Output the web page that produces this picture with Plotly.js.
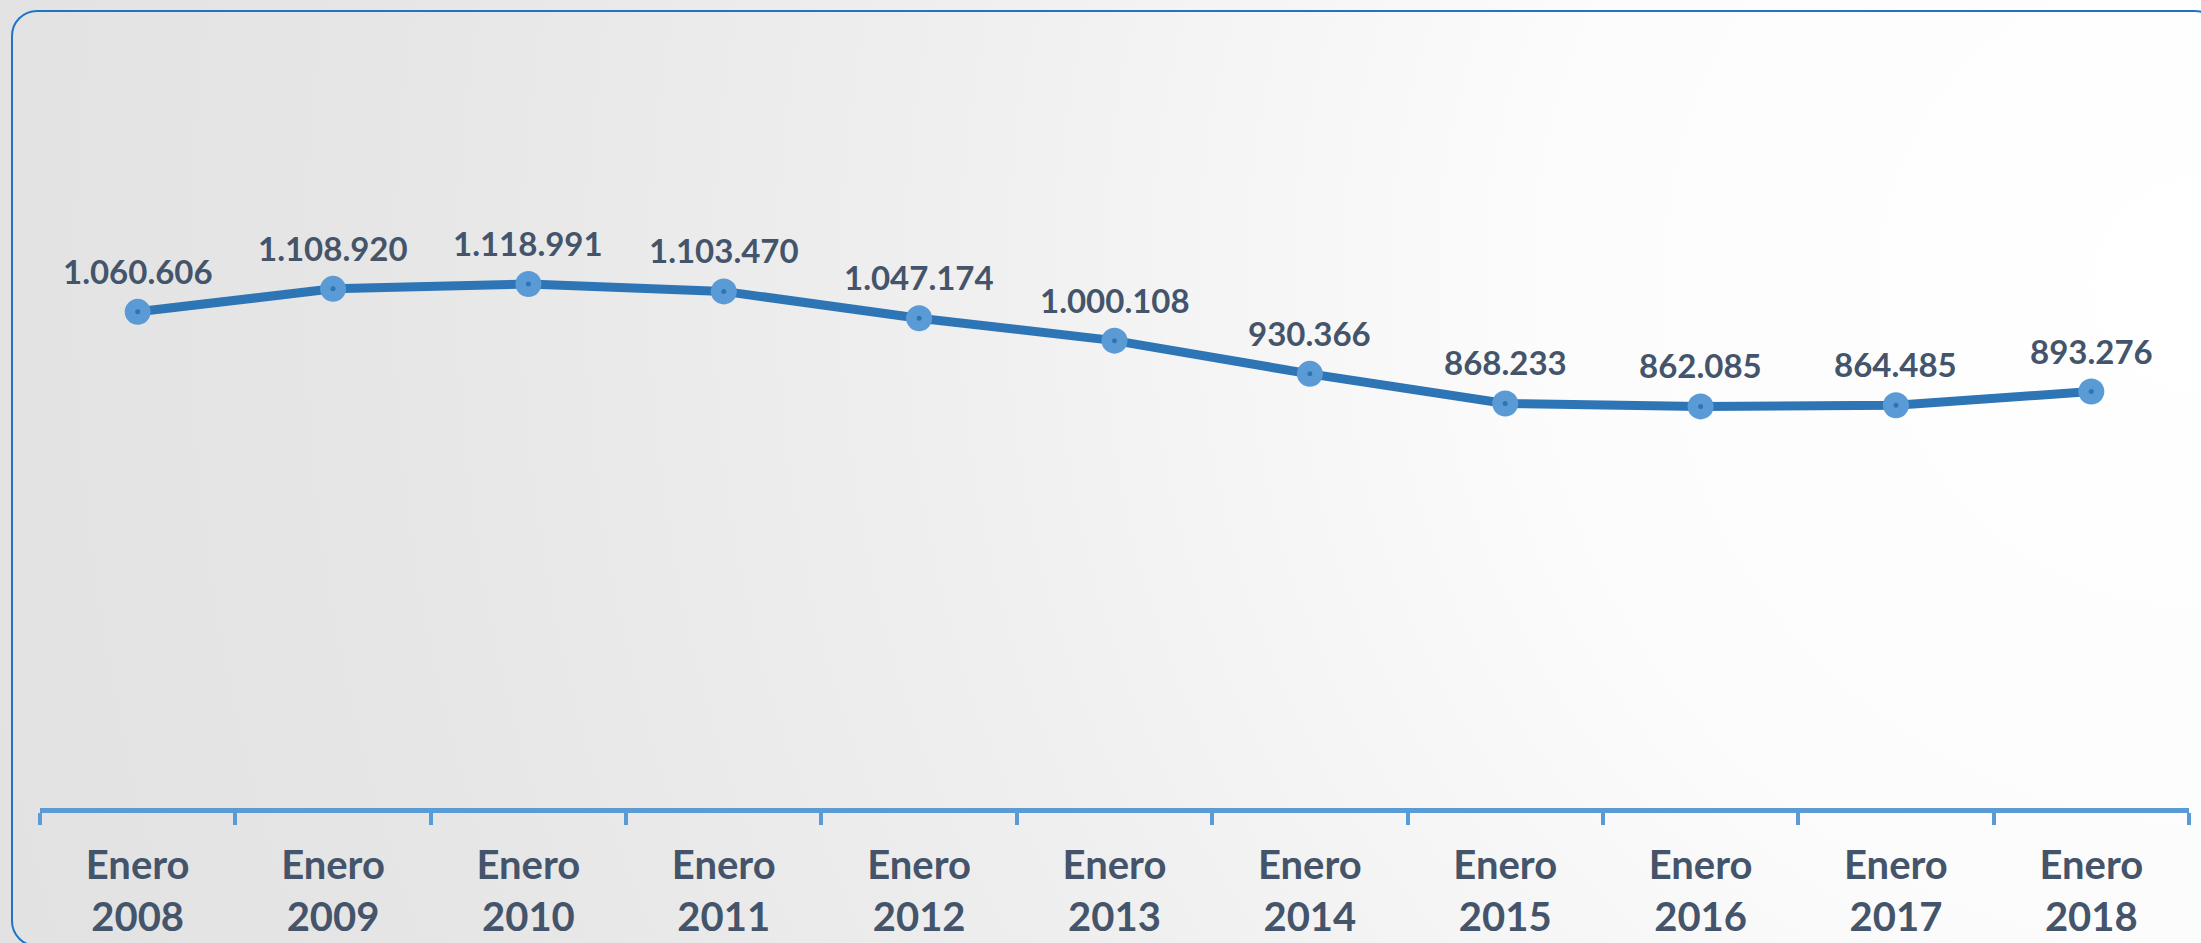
<!DOCTYPE html>
<html>
<head>
<meta charset="utf-8">
<script src="https://cdn.plot.ly/plotly-3.0.1.min.js"></script>
<style>
  html, body { margin: 0; padding: 0; width: 2201px; height: 943px; overflow: hidden; }
  body { background: radial-gradient(circle at 100% 30%, #ffffff 0%, #fcfcfc 28%, #efefef 55%, #e6e6e6 80%, #e2e2e2 100%); }
  #frame { position: absolute; left: 11px; top: 10px; width: 2210px; height: 937px;
           border: 2px solid #1F74C4; border-radius: 26px; box-sizing: border-box; }
  #chart { position: absolute; left: 0; top: 0; width: 2201px; height: 943px; }
</style>
</head>
<body>
<div id="frame"></div>
<div id="chart"></div>
<script>
const months = ["Enero", "Enero", "Enero", "Enero", "Enero", "Enero", "Enero", "Enero", "Enero", "Enero", "Enero"];
const years = ["2008", "2009", "2010", "2011", "2012", "2013", "2014", "2015", "2016", "2017", "2018"];
const values = [1060606, 1108920, 1118991, 1103470, 1047174, 1000108, 930366, 868233, 862085, 864485, 893276];
const valueLabels = ["1.060.606", "1.108.920", "1.118.991", "1.103.470", "1.047.174", "1.000.108", "930.366", "868.233", "862.085", "864.485", "893.276"];

const categories = months.map((m, i) => m + "<br>" + years[i]);

const lineTrace = {
  x: categories, y: values, type: "scatter", mode: "lines+markers",
  line: { color: "#2E75B6", width: 9 },
  marker: { color: "#5B9BD5", size: 26 },
  hoverinfo: "skip", showlegend: false
};
const dotTrace = {
  x: categories, y: values, type: "scatter", mode: "markers",
  marker: { color: "#2E75B6", size: 5 },
  hoverinfo: "skip", showlegend: false
};

const annotations = categories.map((c, i) => ({
  x: c, y: values[i], xref: "x", yref: "y", text: valueLabels[i],
  showarrow: false, yshift: 41,
  font: { family: "Lato, 'Open Sans', sans-serif", size: 33, color: "#44546A", weight: "bold" }
}));

const layout = {
  width: 2201, height: 943,
  margin: { l: 40, r: 12, t: 30, b: 135 },
  paper_bgcolor: "rgba(0,0,0,0)", plot_bgcolor: "rgba(0,0,0,0)",
  showlegend: false,
  xaxis: {
    type: "category", range: [-0.5, 10.5], fixedrange: true,
    showline: true, linecolor: "#5B9BD5", linewidth: 5,
    ticks: "outside", tickson: "boundaries", ticklen: 12, tickwidth: 4, tickcolor: "#5B9BD5",
    ticklabelstandoff: 18,
    showgrid: false, zeroline: false,
    tickfont: { family: "Lato, 'Open Sans', sans-serif", size: 40, color: "#44546A", weight: "bold" }
  },
  yaxis: {
    range: [18900, 1652300], visible: false, showgrid: false, zeroline: false, fixedrange: true
  },
  annotations: annotations
};

Plotly.newPlot("chart", [lineTrace, dotTrace], layout, { staticPlot: true, displayModeBar: false });
</script>
</body>
</html>
